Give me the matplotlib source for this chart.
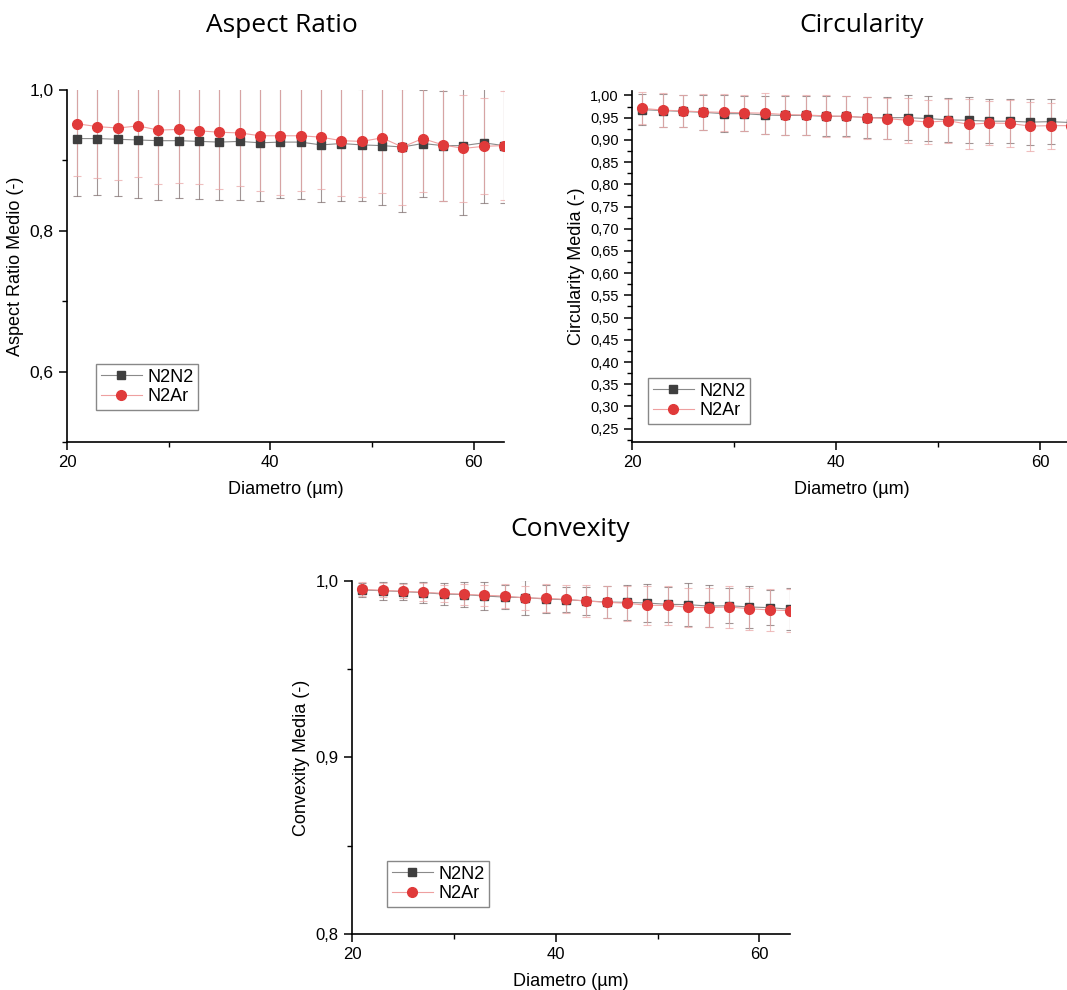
import matplotlib
matplotlib.use("Agg")
import matplotlib.pyplot as plt
from matplotlib.ticker import MultipleLocator, FuncFormatter

# Diametro (µm)
diametro = [21, 23, 25, 27, 29, 31, 33, 35, 37, 39, 41,
            43, 45, 47, 49, 51, 53, 55, 57, 59, 61, 63]

# Aspect Ratio
ar_n2n2 = [0.931, 0.931, 0.930, 0.929, 0.928, 0.928, 0.927, 0.926, 0.927, 0.925, 0.926,
           0.926, 0.922, 0.924, 0.922, 0.921, 0.919, 0.924, 0.921, 0.921, 0.925, 0.921]
ar_n2n2_sd = [0.082, 0.080, 0.081, 0.082, 0.084, 0.081, 0.082, 0.082, 0.083, 0.082, 0.079,
              0.081, 0.081, 0.081, 0.080, 0.085, 0.092, 0.076, 0.078, 0.099, 0.085, 0.082]
ar_n2ar = [0.952, 0.948, 0.946, 0.949, 0.943, 0.944, 0.942, 0.940, 0.939, 0.935, 0.935,
           0.935, 0.933, 0.928, 0.927, 0.932, 0.919, 0.931, 0.922, 0.917, 0.920, 0.921]
ar_n2ar_sd = [0.074, 0.073, 0.074, 0.072, 0.077, 0.076, 0.076, 0.081, 0.076, 0.079, 0.084,
              0.078, 0.073, 0.078, 0.079, 0.079, 0.083, 0.076, 0.079, 0.076, 0.068, 0.077]

# Circularity
ci_n2n2 = [0.968, 0.966, 0.964, 0.962, 0.959, 0.959, 0.956, 0.955, 0.955, 0.953, 0.953,
           0.950, 0.950, 0.950, 0.948, 0.945, 0.944, 0.942, 0.942, 0.940, 0.941, 0.939]
ci_n2n2_sd = [0.035, 0.037, 0.036, 0.039, 0.041, 0.040, 0.043, 0.043, 0.044, 0.045, 0.045,
              0.046, 0.047, 0.050, 0.050, 0.050, 0.052, 0.050, 0.050, 0.052, 0.050, 0.050]
ci_n2ar = [0.971, 0.967, 0.965, 0.963, 0.962, 0.961, 0.960, 0.957, 0.956, 0.954, 0.953,
           0.950, 0.948, 0.944, 0.940, 0.943, 0.935, 0.938, 0.937, 0.931, 0.932, 0.932]
ci_n2ar_sd = [0.036, 0.038, 0.036, 0.040, 0.042, 0.040, 0.046, 0.045, 0.045, 0.047, 0.046,
              0.047, 0.047, 0.051, 0.050, 0.050, 0.056, 0.050, 0.052, 0.055, 0.052, 0.052]

# Convexity
cv_n2n2 = [0.9949, 0.9945, 0.9940, 0.9934, 0.9926, 0.9923, 0.9915, 0.9909, 0.9906, 0.9898, 0.9894,
           0.9887, 0.9881, 0.9879, 0.9875, 0.9868, 0.9866, 0.9858, 0.9860, 0.9853, 0.9849, 0.9840]
cv_n2n2_sd = [0.004, 0.005, 0.005, 0.006, 0.006, 0.007, 0.008, 0.007, 0.010, 0.008, 0.007,
              0.008, 0.009, 0.010, 0.011, 0.010, 0.012, 0.012, 0.010, 0.012, 0.010, 0.012]
cv_n2ar = [0.9953, 0.9947, 0.9942, 0.9936, 0.9930, 0.9925, 0.9919, 0.9915, 0.9904, 0.9902, 0.9896,
           0.9887, 0.9879, 0.9874, 0.9862, 0.9862, 0.9851, 0.9849, 0.9853, 0.9843, 0.9836, 0.9832]
cv_n2ar_sd = [0.004, 0.004, 0.004, 0.005, 0.005, 0.006, 0.006, 0.007, 0.007, 0.008, 0.008,
              0.009, 0.009, 0.010, 0.011, 0.011, 0.011, 0.011, 0.012, 0.012, 0.012, 0.012]

plt.rcParams["font.family"] = ["Liberation Sans", "DejaVu Sans"]

W, H = 1067, 990
fig = plt.figure(figsize=(W / 100, H / 100), dpi=100)


def px_axes(left, top, right, bottom):
    # axes placed in pixel coordinates of the final image
    return fig.add_axes([left / W, 1 - bottom / H, (right - left) / W, (bottom - top) / H])


def draw(ax, yn2, yn2sd, yar, yarsd, ylabel, ylim, major, minor, fmt, ysize, leg_xy):
    ax.errorbar(diametro, yn2, yerr=yn2sd, fmt="none", ecolor="#7a6868", elinewidth=0.8,
                capsize=3, capthick=0.8, alpha=0.7, zorder=2)
    ax.errorbar(diametro, yar, yerr=yarsd, fmt="none", ecolor="#eaaaaa", elinewidth=0.8,
                capsize=3, capthick=0.8, alpha=0.75, zorder=2)
    ax.plot(diametro, yn2, color="#8a8a8a", lw=0.8, marker="s", ms=5.5,
            mfc="#3f3f3f", mec="#3f3f3f", label="N2N2", zorder=3)
    ax.plot(diametro, yar, color="#eea0a0", lw=0.8, marker="o", ms=7,
            mfc="#e03a3a", mec="#e03a3a", label="N2Ar", zorder=4)
    ax.set_xlim(20, 63)
    ax.set_ylim(*ylim)
    for s in ["top", "right"]:
        ax.spines[s].set_visible(False)
    for s in ["left", "bottom"]:
        ax.spines[s].set_linewidth(1.2)
    ax.xaxis.set_major_locator(MultipleLocator(20))
    ax.xaxis.set_minor_locator(MultipleLocator(10))
    ax.yaxis.set_major_locator(MultipleLocator(major))
    ax.yaxis.set_minor_locator(MultipleLocator(minor))
    ax.yaxis.set_major_formatter(FuncFormatter(lambda v, p: (fmt % v).replace(".", ",")))
    ax.tick_params(which="major", direction="out", length=6, width=1.1)
    ax.tick_params(which="minor", direction="out", length=3.5, width=1.0)
    ax.tick_params(axis="x", labelsize=12)
    ax.tick_params(axis="y", labelsize=ysize)
    ax.set_xlabel("Diametro (µm)", fontsize=13, labelpad=8)
    ax.set_ylabel(ylabel, fontsize=13, labelpad=4)
    ax.legend(loc="upper left", bbox_to_anchor=(leg_xy[0] / W, 1 - leg_xy[1] / H),
              bbox_transform=fig.transFigure, borderaxespad=0, fontsize=13,
              fancybox=False, edgecolor="#888888", framealpha=1, handlelength=2.3,
              handletextpad=0.3, borderpad=0.25, labelspacing=0.15)


ax1 = px_axes(67, 90, 504, 442)
draw(ax1, ar_n2n2, ar_n2n2_sd, ar_n2ar, ar_n2ar_sd, "Aspect Ratio Medio (-)",
     (0.5, 1.0), 0.2, 0.1, "%.1f", 12.5, (96, 364))

ax2 = px_axes(632, 91, 1071, 442)
draw(ax2, ci_n2n2, ci_n2n2_sd, ci_n2ar, ci_n2ar_sd, "Circularity Media (-)",
     (0.22, 1.01), 0.05, 0.025, "%.2f", 10.5, (648, 378))

ax3 = px_axes(352, 581, 790, 934)
draw(ax3, cv_n2n2, cv_n2n2_sd, cv_n2ar, cv_n2ar_sd, "Convexity Media (-)",
     (0.8, 1.0), 0.1, 0.05, "%.1f", 12, (387, 861))

title_kw = dict(fontsize=19, ha="center", va="center", family=["Open Sans", "DejaVu Sans"])
fig.text(282 / W, 1 - 25 / H, "Aspect Ratio", **title_kw)
fig.text(862 / W, 1 - 25 / H, "Circularity", **title_kw)
fig.text(570 / W, 1 - 530 / H, "Convexity", **title_kw)

fig.savefig("out.png", dpi=100)
